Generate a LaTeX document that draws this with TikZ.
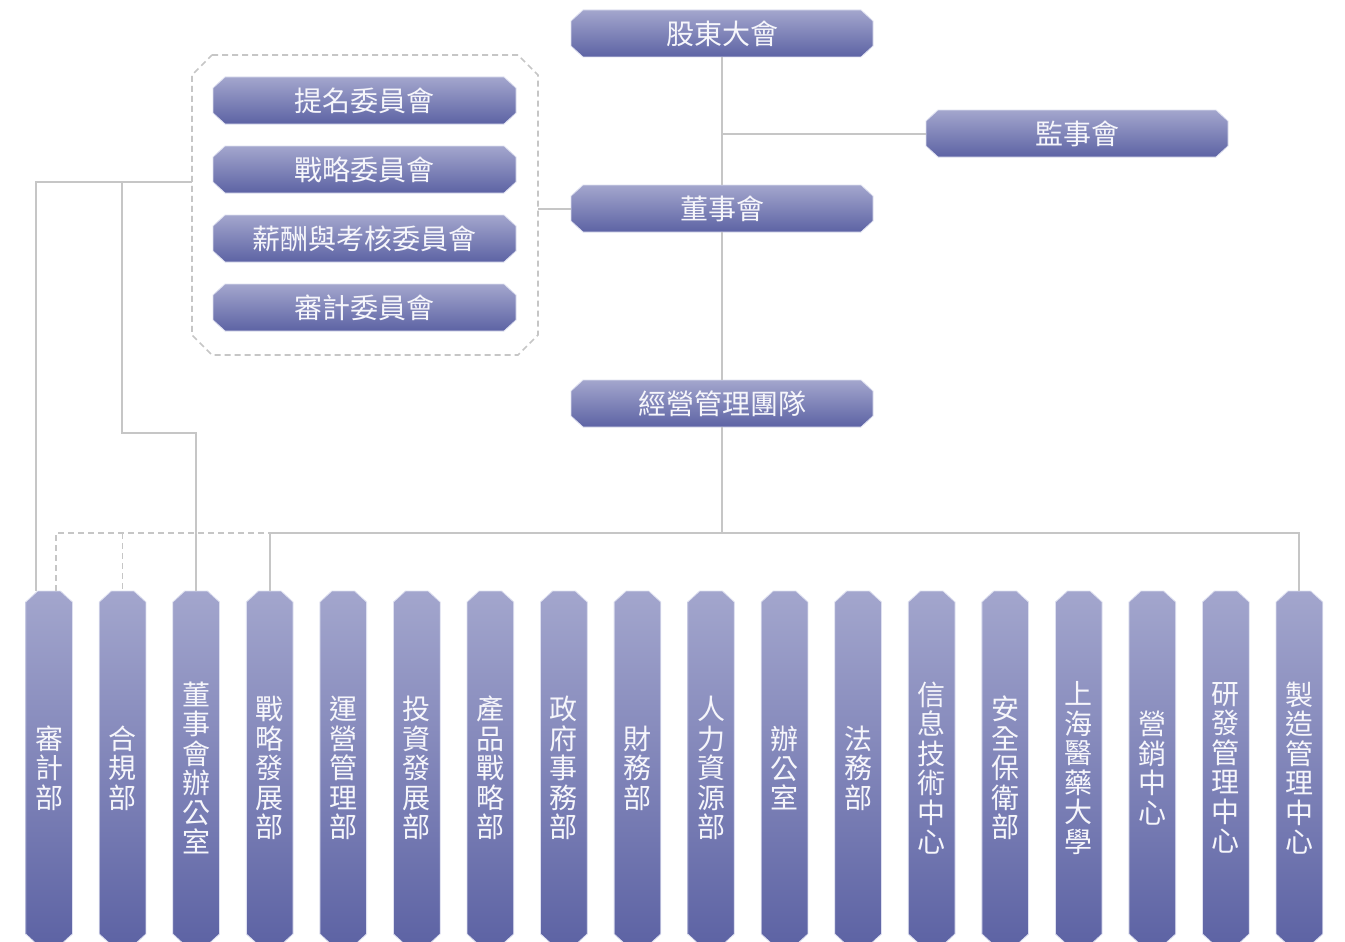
\documentclass[tikz,border=0pt]{standalone}
\usepackage{fontspec}
\newfontfamily\cjk{Noto Sans CJK TC}
\definecolor{btop}{RGB}{163,166,205}
\definecolor{bbot}{RGB}{93,99,164}
\definecolor{edgec}{RGB}{222,224,240}
\definecolor{lineg}{RGB}{198,198,198}
\definecolor{txt}{RGB}{246,246,251}
\tikzset{
  boxfill/.style={top color=btop, bottom color=bbot, draw=edgec, line width=0.8pt},
  lbl/.style={inner sep=0pt, text=txt, font=\cjk\fontsize{28}{29.5}\selectfont, align=center},
  conn/.style={draw=lineg, line width=2pt},
  dconn/.style={draw=lineg, line width=1.6pt, dash pattern=on 6pt off 4pt},
}
\newcommand{\chbox}[6]{%
  \path[boxfill] (#2+12,#3) -- (#4-12,#3) -- (#4,#3+11) -- (#4,#5-11) -- (#4-12,#5) -- (#2+12,#5) -- (#2,#5-11) -- (#2,#3+11) -- cycle;
  \node[lbl, minimum width={#4-#2}, minimum height={#5-#3}] (#1) at ({(#2+#4)/2},{(#3+#5)/2}) {#6};
}
\begin{document}
\begin{tikzpicture}[x=1pt,y=-1pt]
\useasboundingbox (0,0) rectangle (1345,942);
\fill[white] (0,0) rectangle (1345,942);
% committee frame
\path[dconn] (212,55) -- (518,55) -- (538,75) -- (538,335) -- (518,355) -- (212,355) -- (192,335) -- (192,75) -- cycle;
\node[inner sep=0pt, minimum width=346, minimum height=300] (cmt) at (365,205) {};
% top boxes
\chbox{gd}{571}{10}{873}{57}{股東大會}
\chbox{dsh}{571}{185}{873}{232}{董事會}
\chbox{jsh}{926}{110}{1228}{157}{監事會}
\chbox{jy}{571}{380}{873}{427}{經營管理團隊}
\chbox{c1}{213}{77}{516}{124}{提名委員會}
\chbox{c2}{213}{146}{516}{193}{戰略委員會}
\chbox{c3}{213}{215}{516}{262}{薪酬與考核委員會}
\chbox{c4}{213}{284}{516}{331}{審計委員會}
% bottom boxes
\foreach \t [count=\i from 0] in {{審\\計\\部},{合\\規\\部},{董\\事\\會\\辦\\公\\室},{戰\\略\\發\\展\\部},{運\\營\\管\\理\\部},{投\\資\\發\\展\\部},{產\\品\\戰\\略\\部},{政\\府\\事\\務\\部},{財\\務\\部},{人\\力\\資\\源\\部},{辦\\公\\室},{法\\務\\部},{信\\息\\技\\術\\中\\心},{安\\全\\保\\衛\\部},{上\\海\\醫\\藥\\大\\學},{營\\銷\\中\\心},{研\\發\\管\\理\\中\\心},{製\\造\\管\\理\\中\\心}}{
  \pgfmathsetmacro\xa{25.7+73.55*\i}
  \pgfmathsetmacro\xb{\xa+46.7}
  \chbox{b\i}{\xa}{591}{\xb}{945}{\t}
}
% connectors
\draw[conn] (gd.south) -- (dsh.north);
\coordinate (j1) at (gd.south |- jsh.west);
\draw[conn] (j1) -- (jsh.west);
\draw[conn] (cmt.east |- dsh.west) -- (dsh.west);
\draw[conn] (dsh.south) -- (jy.north);
\coordinate (bus) at (722,533);
\draw[conn] (jy.south) -- (bus);
\draw[conn] (b3.north) -- (b3.north |- bus) -- (b17.north |- bus) -- (b17.north);
\coordinate (k1) at (36,182);
\coordinate (k2) at (122,182);
\coordinate (k3) at (122,433);
\draw[conn] (cmt.west |- k1) -- (k1) -- (k1 |- b0.north);
\draw[conn] (k2) -- (k3) -- (k3 -| b2.north) -- (b2.north);
\coordinate (d1) at (56,533);
\draw[dconn] (d1 |- b0.north) -- (d1) -- (b3.north |- bus);
\draw[dconn] (b1.north |- bus) -- (b1.north);
\end{tikzpicture}
\end{document}
